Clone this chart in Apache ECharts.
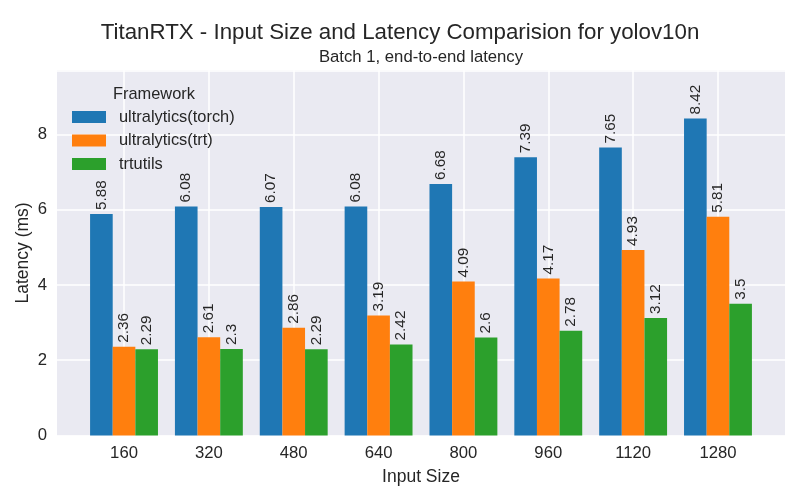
<!DOCTYPE html>
<html>
<head>
<meta charset="utf-8">
<script src="https://cdn.jsdelivr.net/npm/echarts@6/dist/echarts.min.js"></script>
<style>html,body{margin:0;padding:0;background:#fff}#c{width:800px;height:500px}</style>
</head>
<body>
<div id="c"></div>
<script>
const categories = ['160', '320', '480', '640', '800', '960', '1120', '1280'];
const torch = [5.88, 6.08, 6.07, 6.08, 6.68, 7.39, 7.65, 8.42];
const trt = [2.36, 2.61, 2.86, 3.19, 4.09, 4.17, 4.93, 5.81];
const trtutils = [2.29, 2.3, 2.29, 2.42, 2.6, 2.78, 3.12, 3.5];
const seriesNames = ['ultralytics(torch)', 'ultralytics(trt)', 'trtutils'];
const yTicks = [0, 2, 4, 6, 8];

const FONT = '"Liberation Sans", Arial, sans-serif';
const TXT = '#262626';
const colors = ['#1f77b4', '#ff7f0e', '#2ca02c'];
const YMAX = 9.7;

const chart = echarts.init(document.getElementById('c'), null, {renderer: 'canvas'});
const barLabel = {
  show: true, position: 'top', distance: 4, rotate: 90, align: 'left', verticalAlign: 'middle',
  fontFamily: FONT, fontSize: 15.3, color: TXT
};
function bar(name, data, i) {
  return {
    name: name, type: 'bar', xAxisIndex: 1, yAxisIndex: 1, data: data,
    barWidth: '26.67%', barGap: '0%', z: 3,
    itemStyle: {color: colors[i]}, label: barLabel, emphasis: {disabled: true}
  };
}
chart.setOption({
  animation: false,
  color: colors,
  textStyle: {fontFamily: FONT},
  title: [
    {text: 'TitanRTX - Input Size and Latency Comparision for yolov10n', left: 'center', top: 22, padding: 0,
     textStyle: {fontFamily: FONT, fontSize: 22.3, fontWeight: 'normal', color: TXT}},
    {text: 'Batch 1, end-to-end latency', left: 421, top: 49, padding: 0, textAlign: 'center',
     textStyle: {fontFamily: FONT, fontSize: 16.7, fontWeight: 'normal', color: TXT}},
    {text: 'Framework', left: 113, top: 86, padding: 0,
     textStyle: {fontFamily: FONT, fontSize: 16.4, fontWeight: 'normal', color: TXT}}
  ],
  legend: {
    data: seriesNames, orient: 'vertical', left: 72, top: 109, itemWidth: 34, itemHeight: 12,
    itemGap: 7.5, icon: 'rect', padding: 0,
    textStyle: {fontFamily: FONT, fontSize: 16.4, color: TXT, padding: [0, 0, 0, 8]}
  },
  grid: [
    {left: 57, right: 15, top: 70.3, bottom: 64.5, show: true, backgroundColor: '#eaeaf2', borderWidth: 0, containLabel: false},
    {left: 81.6, right: 39.6, top: 70.3, bottom: 64.5, containLabel: false}
  ],
  xAxis: [
    {type: 'value', gridIndex: 0, min: 0, max: 1, show: false},
    {type: 'category', gridIndex: 1, data: categories, boundaryGap: true,
     axisLine: {show: false}, axisTick: {show: false}, splitLine: {show: false},
     axisLabel: {fontFamily: FONT, fontSize: 16.7, color: TXT, margin: 9},
     name: 'Input Size', nameLocation: 'middle', nameGap: 33, nameMoveOverlap: false,
     nameTextStyle: {fontFamily: FONT, fontSize: 17.5, color: TXT}}
  ],
  yAxis: [
    {type: 'value', gridIndex: 0, min: 0, max: YMAX, interval: 2,
     axisLine: {show: false}, axisTick: {show: false},
     splitLine: {show: true, lineStyle: {color: '#ffffff', width: 1.5}},
     axisLabel: {fontFamily: FONT, fontSize: 16.7, color: TXT, margin: 10,
       formatter: function (v) { return yTicks.indexOf(v) >= 0 ? String(v) : ''; }},
     name: 'Latency (ms)', nameLocation: 'middle', nameGap: 25, nameMoveOverlap: false,
     nameTextStyle: {fontFamily: FONT, fontSize: 17.5, color: TXT}},
    {type: 'value', gridIndex: 1, min: 0, max: YMAX, show: false, splitLine: {show: false}}
  ],
  series: [
    {type: 'line', xAxisIndex: 1, yAxisIndex: 1, data: [], z: 1, silent: true,
     markLine: {silent: true, z: 1, symbol: 'none', label: {show: false},
       lineStyle: {color: '#ffffff', width: 1.5, type: 'solid'},
       emphasis: {disabled: true},
       data: categories.map(function (c) { return {xAxis: c}; })}},
    bar(seriesNames[0], torch, 0),
    bar(seriesNames[1], trt, 1),
    bar(seriesNames[2], trtutils, 2)
  ]
});
</script>
</body>
</html>
